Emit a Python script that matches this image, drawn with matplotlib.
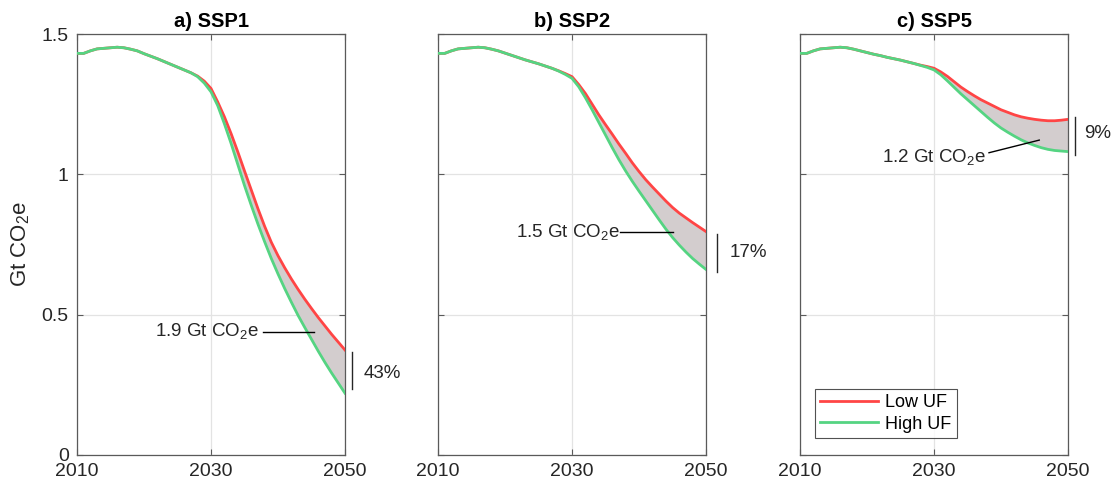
import matplotlib
matplotlib.use("Agg")
import matplotlib.pyplot as plt
import numpy as np

plt.rcParams['font.family'] = ['Liberation Sans', 'DejaVu Sans']
plt.rcParams['mathtext.fontset'] = 'custom'
plt.rcParams['mathtext.rm'] = 'Liberation Sans'

years = list(range(2010, 2051))

# shared historical path 2010-2019
history = [1.431, 1.431, 1.440, 1.447, 1.449, 1.451, 1.453, 1.451, 1.446, 1.440]

ssp1_low = history + [1.430, 1.421, 1.412, 1.402, 1.392, 1.382, 1.372, 1.362,
                      1.350, 1.332, 1.306, 1.258, 1.205, 1.145, 1.080, 1.012,
                      0.945, 0.878, 0.815, 0.758, 0.710, 0.667, 0.627, 0.590,
                      0.555, 0.522, 0.490, 0.460, 0.430, 0.402, 0.374]
ssp1_high = history + [1.430, 1.421, 1.412, 1.402, 1.392, 1.382, 1.372, 1.362,
                       1.348, 1.325, 1.294, 1.245, 1.180, 1.110, 1.035, 0.960,
                       0.890, 0.823, 0.760, 0.700, 0.645, 0.593, 0.544, 0.497,
                       0.454, 0.412, 0.370, 0.330, 0.292, 0.256, 0.220]

ssp2_low = history + [1.432, 1.424, 1.416, 1.408, 1.401, 1.394, 1.386, 1.378,
                      1.369, 1.359, 1.348, 1.320, 1.288, 1.250, 1.212, 1.177,
                      1.143, 1.108, 1.075, 1.041, 1.010, 0.981, 0.955, 0.930,
                      0.905, 0.882, 0.862, 0.845, 0.828, 0.812, 0.796]
ssp2_high = history + [1.432, 1.424, 1.416, 1.408, 1.401, 1.394, 1.386, 1.378,
                       1.368, 1.356, 1.342, 1.312, 1.273, 1.230, 1.185, 1.140,
                       1.095, 1.052, 1.012, 0.975, 0.940, 0.906, 0.872, 0.838,
                       0.805, 0.775, 0.748, 0.723, 0.700, 0.680, 0.661]

ssp5_low = history + [1.434, 1.428, 1.423, 1.417, 1.412, 1.407, 1.401, 1.395,
                      1.389, 1.384, 1.378, 1.365, 1.349, 1.330, 1.311, 1.295,
                      1.280, 1.266, 1.254, 1.242, 1.230, 1.221, 1.212, 1.205,
                      1.200, 1.196, 1.193, 1.191, 1.191, 1.193, 1.196]
ssp5_high = history + [1.434, 1.428, 1.423, 1.417, 1.412, 1.407, 1.401, 1.395,
                       1.388, 1.381, 1.372, 1.355, 1.333, 1.310, 1.287, 1.266,
                       1.245, 1.224, 1.203, 1.183, 1.165, 1.150, 1.136, 1.123,
                       1.112, 1.103, 1.095, 1.089, 1.085, 1.083, 1.081]

titles = ['a) SSP1', 'b) SSP2', 'c) SSP5']
low_series = [ssp1_low, ssp2_low, ssp5_low]
high_series = [ssp1_high, ssp2_high, ssp5_high]
gap_labels = [r'1.9 Gt CO$_2$e', r'1.5 Gt CO$_2$e', r'1.2 Gt CO$_2$e']
pct_labels = ['43%', '17%', '9%']

RED = '#FF4545'
GREEN = '#55D482'
FILL = '#D3CDCE'
SPINE = '#5A5A5A'

fig = plt.figure(figsize=(11.17, 4.86), dpi=100)
lefts = [0.0689, 0.3921, 0.7162]
width = 0.2400
bottom = 0.0638
height = 0.8662

# callout per panel: (text_x, text_y, line_x0, line_y0, line_x1, line_y1)
callouts = [
    (2037.1, 0.44, 2037.7, 0.44, 2045.3, 0.44),
    (2037.2, 0.793, 2037.2, 0.793, 2045.1, 0.793),
    (2037.7, 1.057, 2038.2, 1.077, 2045.7, 1.122),
]
# bracket per panel: (x, y0, y1, text_x, text_y)
brackets = [
    (2051.1, 0.235, 0.367, 2052.8, 0.292),
    (2051.6, 0.651, 0.786, 2053.5, 0.72),
    (2051.0, 1.069, 1.203, 2052.4, 1.146),
]

for i in range(3):
    ax = fig.add_axes([lefts[i], bottom, width, height])
    lo = np.array(low_series[i])
    hi = np.array(high_series[i])
    ax.fill_between(years, hi, lo, color=FILL, lw=0, zorder=2)
    ax.plot(years, lo, color=RED, lw=2.0, label='Low UF', zorder=3,
            solid_joinstyle='round')
    ax.plot(years, hi, color=GREEN, lw=2.0, label='High UF', zorder=3,
            solid_joinstyle='round')

    ax.set_xlim(2010, 2050)
    ax.set_ylim(0, 1.5)
    ax.set_xticks([2010, 2030, 2050])
    ax.set_yticks([0, 0.5, 1, 1.5])
    if i == 0:
        ax.set_yticklabels(['0', '0.5', '1', '1.5'])
        ax.set_ylabel(r'Gt CO$_2$e', fontsize=16, color='#262626', labelpad=7)
    else:
        ax.set_yticklabels([])
    ax.grid(True, color='#E3E3E3', lw=0.9, zorder=0)
    ax.set_axisbelow(True)
    ax.tick_params(direction='in', length=4, width=0.8, colors=SPINE,
                   labelcolor='#262626', labelsize=14, top=True, right=True,
                   pad=6)
    for s in ax.spines.values():
        s.set_color(SPINE)
        s.set_linewidth(0.9)
    ax.set_title(titles[i], fontsize=14.5, fontweight='bold', pad=5)

    tx, ty, lx0, ly0, lx1, ly1 = callouts[i]
    ax.text(tx, ty, gap_labels[i], ha='right', va='center', fontsize=13.5,
            color='#262626', zorder=5)
    ax.plot([lx0, lx1], [ly0, ly1], color='black', lw=1.0, zorder=4)

    bx, by0, by1, ptx, pty = brackets[i]
    ax.plot([bx, bx], [by0, by1], color='#262626', lw=1.0, clip_on=False)
    ax.text(ptx, pty, pct_labels[i], ha='left', va='center', fontsize=13.5,
            color='#262626', clip_on=False)

    if i == 2:
        leg = ax.legend(loc='lower left', bbox_to_anchor=(0.056, 0.04),
                        borderaxespad=0, fontsize=13, frameon=True,
                        fancybox=False, edgecolor='#262626', handlelength=3.2,
                        handletextpad=0.4, borderpad=0.3, labelspacing=0.25)
        leg.get_frame().set_linewidth(0.8)

fig.savefig('out.png', dpi=100)
